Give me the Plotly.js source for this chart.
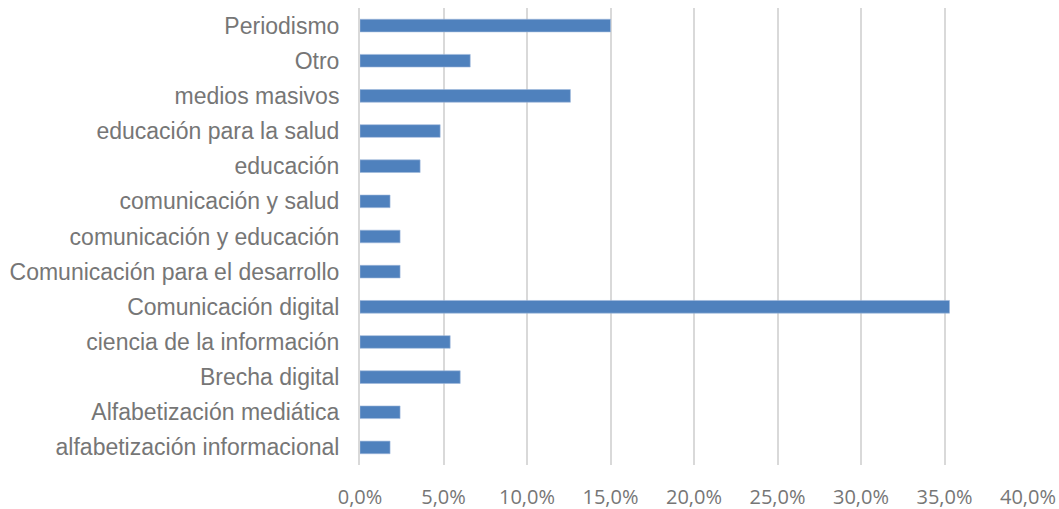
<!DOCTYPE html>
<html>
<head>
<meta charset="utf-8">
<script src="https://cdn.plot.ly/plotly-3.0.1.min.js"></script>
<style>html,body{margin:0;padding:0;background:#fff;}#chart{width:1059px;height:509px;}</style>
</head>
<body>
<div id="chart"></div>
<script>
const categories = [
  "alfabetización informacional",
  "Alfabetización mediática",
  "Brecha digital",
  "ciencia de la información",
  "Comunicación digital",
  "Comunicación para el desarrollo",
  "comunicación y educación",
  "comunicación y salud",
  "educación",
  "educación para la salud",
  "medios masivos",
  "Otro",
  "Periodismo"
];
const values = [0.018, 0.024, 0.060, 0.054, 0.353, 0.024, 0.024, 0.018, 0.036, 0.048, 0.126, 0.066, 0.150];
const xTicks = [0, 0.05, 0.10, 0.15, 0.20, 0.25, 0.30, 0.35, 0.40];

Plotly.newPlot('chart', [{
  type: 'bar',
  orientation: 'h',
  y: categories,
  x: values,
  marker: {color: '#4f81bd', line: {color: '#9fb8dc', width: 0.6}},
  width: 0.36,
  hoverinfo: 'x+y'
}], {
  width: 1059, height: 509,
  margin: {l: 360, r: 31, t: 8, b: 44, pad: 0},
  paper_bgcolor: '#fff', plot_bgcolor: '#fff',
  separators: ',.',
  showlegend: false,
  xaxis: {
    range: [0, 0.4], tickvals: xTicks, tickformat: '.1%',
    showgrid: true, gridcolor: '#d9d9d9', gridwidth: 2,
    zeroline: false, showline: false, ticks: '',
    tickfont: {family: "'Open Sans', sans-serif", size: 20, color: '#767676'},
    ticklabelstandoff: 18
  },
  yaxis: {
    type: 'category', categoryorder: 'array', categoryarray: categories,
    range: [-0.5, 12.5],
    showgrid: false, zeroline: false, showline: true, linecolor: '#d9d9d9', linewidth: 2,
    ticks: '', ticklabelstandoff: 14,
    tickfont: {family: "Arial, 'Liberation Sans', sans-serif", size: 23, color: '#767676'}
  }
}, {displayModeBar: false, staticPlot: true});
</script>
</body>
</html>
